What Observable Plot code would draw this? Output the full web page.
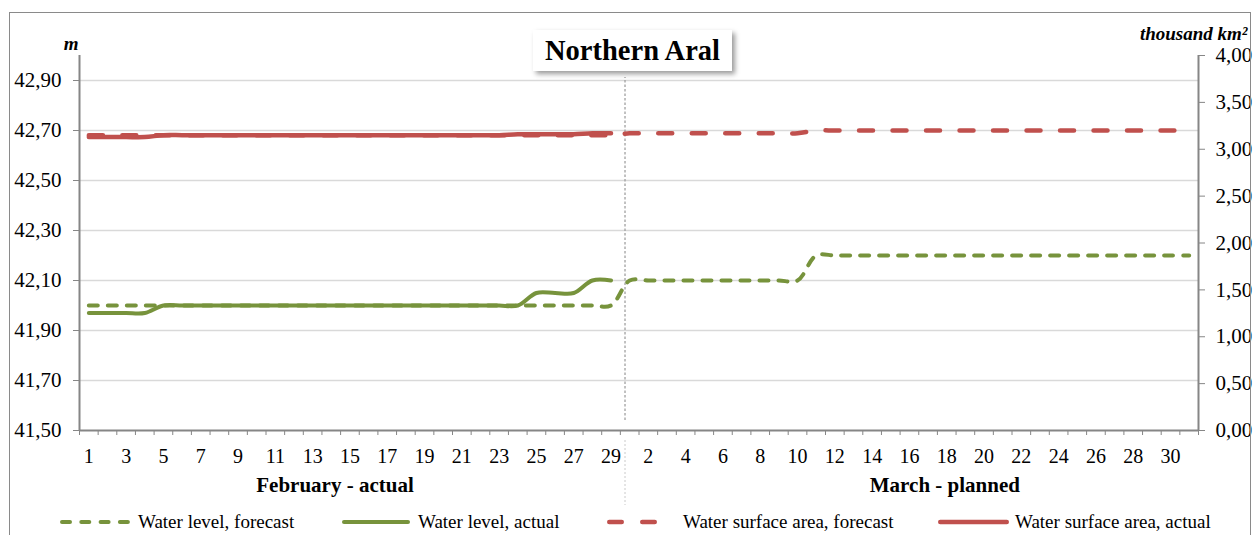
<!DOCTYPE html>
<html><head><meta charset="utf-8">
<script src="https://cdn.jsdelivr.net/npm/d3@7"></script>
<script src="https://cdn.jsdelivr.net/npm/@observablehq/plot@0.6"></script>
<style>
body{margin:0;background:#fff;}
#wrap{position:relative;width:1255px;height:535px;overflow:hidden;font-family:"Liberation Serif","Times New Roman",serif;background:#fff;}
#chart svg{display:block;}
#frame{position:absolute;left:9px;top:12px;width:1242px;height:540px;border:1.5px solid #8a8a8a;box-sizing:border-box;pointer-events:none;}
#title{position:absolute;left:533px;top:30px;width:199px;height:41px;background:#fff;box-shadow:3px 3px 5px rgba(0,0,0,0.4);font-weight:bold;font-size:28.5px;line-height:41px;text-align:center;color:#000;}
#legend{position:relative;height:30px;}
.item{position:absolute;top:0;height:30px;}
.item svg{position:absolute;top:0;}
.item span{position:absolute;top:2px;line-height:30px;font-size:19px;white-space:nowrap;color:#000;}
</style></head>
<body><div id="wrap"><div id="chart"></div><div id="legend"></div><div id="frame"></div><div id="title">Northern Aral</div></div>
<script>
// ---- data ----
const febDays = d3.range(1, 30);   // February 1..29 (actual)
const marDays = d3.range(1, 32);   // March 1..31 (planned)

const levelActualFeb = [41.97,41.97,41.97,41.97,
  42.00,42.00,42.00,42.00,42.00,42.00,42.00,42.00,42.00,42.00,
  42.00,42.00,42.00,42.00,42.00,42.00,42.00,42.00,42.00,42.00,
  42.05,42.05,42.05,42.10,42.10];
const levelForecast = [
  42.00,42.00,42.00,42.00,42.00,42.00,42.00,42.00,42.00,42.00,
  42.00,42.00,42.00,42.00,42.00,42.00,42.00,42.00,42.00,42.00,
  42.00,42.00,42.00,42.00,42.00,42.00,42.00,42.00,42.00,
  42.10,42.10,42.10,42.10,42.10,42.10,42.10,42.10,42.10,42.10,
  42.20,42.20,42.20,42.20,42.20,42.20,42.20,42.20,42.20,42.20,
  42.20,42.20,42.20,42.20,42.20,42.20,42.20,42.20,42.20,42.20,42.20];
const areaActualFeb = [3.13,3.13,3.13,3.13,
  3.15,3.15,3.15,3.15,3.15,3.15,3.15,3.15,3.15,3.15,
  3.15,3.15,3.15,3.15,3.15,3.15,3.15,3.15,3.15,
  3.16,3.16,3.16,3.16,3.17,3.17];
const areaForecast = [
  3.15,3.15,3.15,3.15,3.15,3.15,3.15,3.15,3.15,3.15,
  3.15,3.15,3.15,3.15,3.15,3.15,3.15,3.15,3.15,3.15,
  3.15,3.15,3.15,3.15,3.15,3.15,3.15,3.15,3.15,
  3.17,3.17,3.17,3.17,3.17,3.17,3.17,3.17,3.17,3.17,
  3.20,3.20,3.20,3.20,3.20,3.20,3.20,3.20,3.20,3.20,
  3.20,3.20,3.20,3.20,3.20,3.20,3.20,3.20,3.20,3.20,3.20];

const leftTicks = [41.50,41.70,41.90,42.10,42.30,42.50,42.70,42.90];
const rightTicks = [0,0.5,1,1.5,2,2.5,3,3.5,4];
const monthLabels = ["February - actual", "March - planned"];
const seriesNames = ["Water level, forecast","Water level, actual","Water surface area, forecast","Water surface area, actual"];

// ---- derived ----
const green = "#77933C", red = "#C0504D";
const nFeb = febDays.length, nAll = febDays.length + marDays.length;
const idx = i => i + 1; // category index (1-based)
const yMin = 41.5, yMax = 43.0, aMax = 4.0;
const areaToLeft = a => yMin + a * (yMax - yMin) / aMax;
const leftToArea = v => (v - yMin) * aMax / (yMax - yMin);
const fmt = v => (Math.round(v * 100) / 100).toFixed(2).replace(".", ",");

const laData = levelActualFeb.map((v, i) => ({x: idx(i), y: v}));
const lfData = levelForecast.map((v, i) => ({x: idx(i), y: v}));
const aaData = areaActualFeb.map((v, i) => ({x: idx(i), y: areaToLeft(v)}));
const afData = areaForecast.map((v, i) => ({x: idx(i), y: areaToLeft(v)}));

const boundaries = d3.range(0, nAll + 1).map(i => i + 0.5);
const labelTicks = [];
const labelText = new Map();
febDays.forEach((d, i) => { if (d % 2 === 1) { labelTicks.push(idx(i)); labelText.set(idx(i), String(d)); } });
marDays.forEach((d, i) => { if (d % 2 === 0) { labelTicks.push(nFeb + idx(i)); labelText.set(nFeb + idx(i), String(d)); } });
const splitAt = nFeb + 0.75;
const monthPos = [{label: monthLabels[0], x: 14.2}, {label: monthLabels[1], x: 46.9}];

const axisGray = "#868686";
const chart = Plot.plot({
  width: 1255, height: 505,
  marginLeft: 79, marginRight: 57, marginTop: 55, marginBottom: 75,
  style: {fontFamily: "Liberation Serif, Times New Roman, serif", fontSize: "19px", color: "#000", background: "transparent", overflow: "visible"},
  x: {type: "linear", domain: [0.5, nAll + 0.5], axis: null},
  y: {domain: [yMin, yMax], axis: null},
  marks: [
    Plot.gridY({ticks: leftTicks.slice(1), stroke: "#d9d9d9", strokeOpacity: 1, strokeWidth: 1.3}),
    Plot.ruleX([splitAt], {y1: 41.54, y2: 42.912, stroke: "#a0a0a0", strokeDasharray: "2.5,2", strokeWidth: 1.3}),
    Plot.ruleX([splitAt], {y1: 41.46, y2: 41.2, stroke: "#dcdcdc", strokeDasharray: "2,2", strokeWidth: 1.5}),
    Plot.axisY({ticks: leftTicks, tickFormat: fmt, tickSize: 6, tickPadding: 12, stroke: axisGray, fill: "#000", fontSize: 21, label: null}),
    Plot.axisY({ticks: rightTicks.map(areaToLeft), anchor: "right", tickFormat: v => fmt(leftToArea(v)), tickSize: 6, tickPadding: 11, stroke: axisGray, fill: "#000", fontSize: 21, label: null}),
    Plot.axisX({ticks: boundaries, tickSize: 5, tickFormat: () => "", stroke: axisGray, label: null}),
    Plot.axisX({ticks: labelTicks, tickSize: 0, tickPadding: 18, tickFormat: i => labelText.get(Math.round(i)), fill: "#000", fontSize: 20, label: null}),
    Plot.ruleX([0.5, nAll + 0.5], {stroke: axisGray, strokeWidth: 2}),
    Plot.ruleY([yMin], {stroke: axisGray, strokeWidth: 2}),
    Plot.line(afData, {x: "x", y: "y", stroke: red, strokeWidth: 4.5, strokeDasharray: "14,19.5", strokeLinecap: "round", curve: "catmull-rom"}),
    Plot.line(aaData, {x: "x", y: "y", stroke: red, strokeWidth: 4.5, strokeLinecap: "round", curve: "catmull-rom"}),
    Plot.line(lfData, {x: "x", y: "y", stroke: green, strokeWidth: 4, strokeDasharray: "9,10", strokeLinecap: "round", curve: "catmull-rom"}),
    Plot.line(laData, {x: "x", y: "y", stroke: green, strokeWidth: 4, strokeLinecap: "round", curve: "catmull-rom"}),
    Plot.text(monthPos, {x: "x", text: "label", frameAnchor: "bottom", dy: 61, fontWeight: "bold", fontSize: 21, fill: "#000"}),
    Plot.text(["m"], {text: d => d, frameAnchor: "top-left", textAnchor: "end", dx: -1, dy: -19, fontWeight: "bold", fontStyle: "italic", fontSize: 19, fill: "#000"}),
    Plot.text(["thousand km²"], {text: d => d, frameAnchor: "top-right", textAnchor: "end", dx: 49, dy: -29, fontWeight: "bold", fontStyle: "italic", fontSize: 19, fill: "#000"})
  ]
});
document.getElementById("chart").appendChild(chart);

// ---- legend ----
const legendItems = [
  {name: seriesNames[0], color: green, w: 4, dash: "8,11.3", left: 60, len: 70, textLeft: 138},
  {name: seriesNames[1], color: green, w: 4, dash: null, left: 342, len: 68, textLeft: 418},
  {name: seriesNames[2], color: red, w: 4.5, dash: "12.5,20.5", left: 607, len: 52, textLeft: 683},
  {name: seriesNames[3], color: red, w: 4.5, dash: null, left: 938, len: 71, textLeft: 1015}
];
const legend = document.getElementById("legend");
for (const it of legendItems) {
  const div = document.createElement("div");
  div.className = "item";
  div.style.left = it.left + "px";
  const half = it.w / 2;
  div.innerHTML = `<svg width="${it.len + 4}" height="30"><line x1="${half}" x2="${it.len - half}" y1="17" y2="17" stroke="${it.color}" stroke-width="${it.w}" stroke-linecap="round" ${it.dash ? `stroke-dasharray="${it.dash}"` : ""}/></svg><span style="left:${it.textLeft - it.left}px">${it.name}</span>`;
  legend.appendChild(div);
}
</script>
</body></html>
